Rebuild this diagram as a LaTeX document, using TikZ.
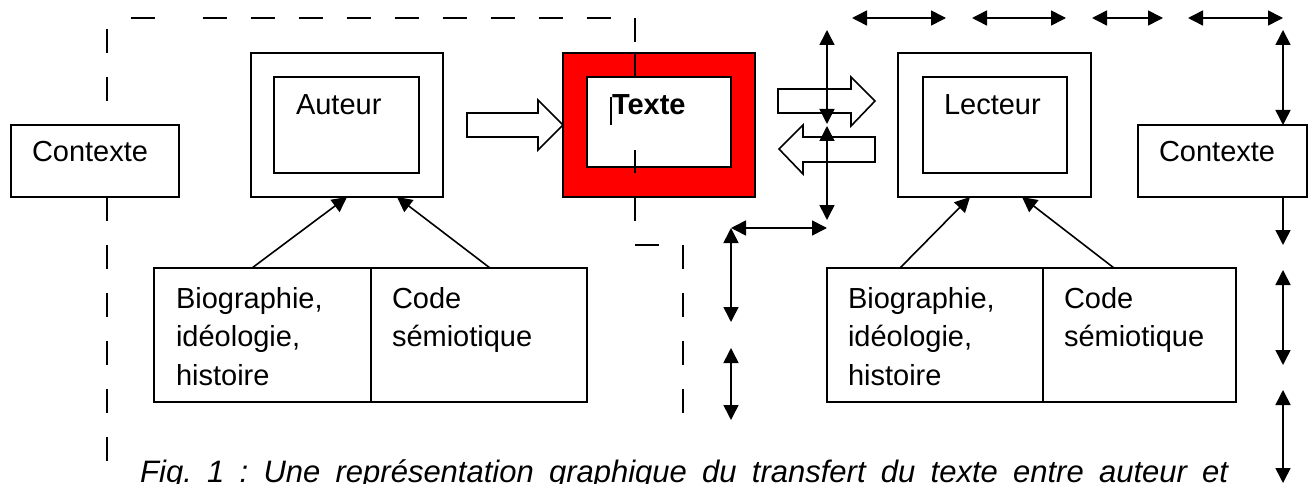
\documentclass[tikz,border=0pt]{standalone}
\usepackage{fontspec}
\setmainfont{Liberation Sans}
\usetikzlibrary{arrows.meta,calc}
\begin{document}
\frenchspacing
\begin{tikzpicture}[x=1pt,y=-1pt,
  box/.style={draw, line width=1.6pt, inner sep=0pt, outer sep=0pt, anchor=north west},
  lbl/.style={anchor=base west, inner sep=0pt, outer sep=0pt, align=left, font=\fontsize{29}{38.5}\selectfont},
  tipx/.tip={Triangle[length=15pt,width=15pt]},
  arr/.style={line width=1.6pt, -tipx},
  dbl/.style={line width=1.6pt, tipx-tipx},
  dsh/.style={line width=1.8pt},
  dpat/.style={line width=1.8pt, dash pattern=on 24pt off 24pt},
  blk/.style={draw, line width=1.6pt, fill=white, line join=miter}
]
\useasboundingbox (0,0) rectangle (1315,484);

% boxes
\node[box, minimum width=168pt, minimum height=72pt] (ctxL) at (11,125) {};
\node[box, minimum width=192pt, minimum height=144pt] (autO) at (251,53) {};
\node[box, minimum width=145pt, minimum height=96pt] (autI) at (274,77) {};
\node[box, fill=red, minimum width=192pt, minimum height=144pt] (txtO) at (563,53) {};
\node[box, fill=white, minimum width=144pt, minimum height=90pt] (txtI) at (587,77) {};
\node[box, minimum width=193pt, minimum height=144pt] (lecO) at (898,53) {};
\node[box, minimum width=144pt, minimum height=96pt] (lecI) at (923,77) {};
\node[box, minimum width=169pt, minimum height=72pt] (ctxR) at (1138,125) {};
\node[box, minimum width=217pt, minimum height=134pt] (bioL) at (154,268) {};
\node[box, minimum width=216pt, minimum height=134pt] (codL) at (371,268) {};
\node[box, minimum width=216pt, minimum height=134pt] (bioR) at (827,268) {};
\node[box, minimum width=193pt, minimum height=134pt] (codR) at (1043,268) {};

% texts (base anchor = baseline of last line)
\node[lbl] (tctxL) at (32,162) {Contexte};
\node[lbl] (taut) at (296,115) {Auteur};
\node[lbl, font=\fontsize{29}{38.5}\selectfont\bfseries] (ttxt) at (612,115) {Texte};
\node[lbl] (tlec) at (944,115) {Lecteur};
\node[lbl] (tctxR) at (1159,162) {Contexte};
\node[lbl] (tbioL) at (176,385) {Biographie,\\idéologie,\\histoire};
\node[lbl] (tcodL) at (392,346.5) {Code\\sémiotique};
\node[lbl] (tbioR) at (848,385) {Biographie,\\idéologie,\\histoire};
\node[lbl] (tcodR) at (1064,346.5) {Code\\sémiotique};
\node[anchor=base west, inner sep=0pt, font=\fontsize{31}{36}\selectfont\itshape] (cap) at (140,482)
  {\makebox[1088pt][s]{Fig. 1 : Une représentation graphique du transfert du texte entre auteur et}};

% text cursor
\draw[line width=1.3pt] (611,97) -- (611,125);

% arrows to author / reader
\draw[arr] ([xshift=98pt]bioL.north west) -- ([xshift=96pt]autO.south west);
\draw[arr] ([xshift=119pt]codL.north west) -- ([xshift=146pt]autO.south west);
\draw[arr] ([xshift=73pt]bioR.north west) -- ([xshift=72pt]lecO.south west);
\draw[arr] ([xshift=71pt]codR.north west) -- ([xshift=124pt]lecO.south west);

% block arrows
\draw[blk] (467,113) -- (538,113) -- (538,100) -- (563,125) -- (538,150) -- (538,137) -- (467,137) -- cycle;
\draw[blk] (778,89) -- (851,89) -- (851,77) -- (875,101) -- (851,126) -- (851,113) -- (778,113) -- cycle;
\draw[blk] (875,137) -- (803,137) -- (803,125) -- (779,149) -- (803,174) -- (803,162) -- (875,162) -- cycle;

% coordinates for double arrows
\coordinate (va1) at (827,30);  \coordinate (va2) at (827,124);
\coordinate (va3) at (827,126); \coordinate (va4) at (827,220);
\coordinate (ha1) at (731,228); \coordinate (ha2) at (827,228);
\coordinate (vb1) at (731,322);
\coordinate (vb2) at (731,348); \coordinate (vb3) at (731,420);
\coordinate (t1a) at (852,18);  \coordinate (t1b) at (946,18);
\coordinate (t2a) at (972,18);  \coordinate (t2b) at (1066,18);
\coordinate (t3a) at (1092,18); \coordinate (t3b) at (1163,18);
\coordinate (t4a) at (1188,18); \coordinate (t4b) at (1283,18);
\coordinate (r1) at (1283,30);
\coordinate (r2) at (1283,245);
\coordinate (r3) at (1283,270); \coordinate (r4) at (1283,365);
\coordinate (r5) at (1283,390); \coordinate (r6) at (1283,483);

\draw[dbl] (va1) -- (va2);
\draw[dbl] (va3) -- (va4);
\draw[dbl] (ha1) -- (ha2);
\draw[dbl] (ha1) -- (vb1);
\draw[dbl] (vb2) -- (vb3);
\draw[dbl] (t1a) -- (t1b);
\draw[dbl] (t2a) -- (t2b);
\draw[dbl] (t3a) -- (t3b);
\draw[dbl] (t4a) -- (t4b);
\draw[dbl] (r1) -- ([xshift=145pt]ctxR.north west);
\draw[arr] ([xshift=145pt]ctxR.south west) -- (r2);
\draw[dbl] (r3) -- (r4);
\draw[dbl] (r5) -- (r6);

% dashed frame
\draw[dsh] (131,18) -- (155,18);
\draw[dpat] (203,18) -- (611,18);
\draw[dpat] (107,29) -- (107,101);
\draw[dpat] (107,197) -- (107,462);
\draw[dsh] (635,18) -- (635,42);
\draw[dsh] (635,53) -- (635,77);
\draw[dsh] (635,150) -- (635,173);
\draw[dsh] (635,198) -- (635,221);
\draw[dsh] (635,245) -- (659,245);
\draw[dpat] (683,245) -- (683,413);
\end{tikzpicture}
\end{document}
